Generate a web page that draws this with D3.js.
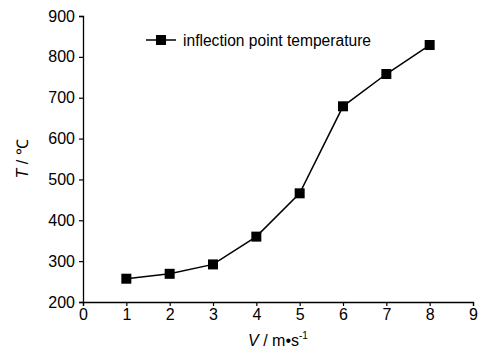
<!DOCTYPE html>
<html>
<head>
<meta charset="utf-8">
<script src="https://cdn.jsdelivr.net/npm/d3@7"></script>
<style>
  body { margin: 0; background: #fff; }
  text { font-family: "Liberation Sans", Arial, sans-serif; fill: #000; }
</style>
</head>
<body>
<svg id="chart" width="481" height="353"></svg>
<script>
// data
const speeds = [1, 2, 3, 4, 5, 6, 7, 8];
const temps = [257, 269, 292, 360, 466, 679, 758, 829];
const xTicks = [0, 1, 2, 3, 4, 5, 6, 7, 8, 9];
const yTicks = [200, 300, 400, 500, 600, 700, 800, 900];
const seriesName = "inflection point temperature";

const svg = d3.select("#chart");
const margin = { top: 16, right: 8, bottom: 51, left: 83 };
const width = +svg.attr("width") - margin.left - margin.right;
const height = +svg.attr("height") - margin.top - margin.bottom;
const g = svg.append("g").attr("transform", `translate(${margin.left},${margin.top})`);

const x = d3.scaleLinear().domain([0, 9]).range([0, 390]);
const y = d3.scaleLinear().domain([200, 900]).range([height, 0]);

// axes
const xAxis = g.append("g")
  .attr("transform", `translate(0,${height})`)
  .call(d3.axisBottom(x).tickValues(xTicks).tickSize(4).tickPadding(3));
const yAxis = g.append("g")
  .call(d3.axisLeft(y).tickValues(yTicks).tickSize(4).tickPadding(4));

[xAxis, yAxis].forEach(a => {
  a.select(".domain").attr("stroke", "#000").attr("stroke-width", 1.3);
  a.selectAll(".tick line").attr("stroke", "#000").attr("stroke-width", 1.2);
  a.selectAll("text").attr("font-size", 16).attr("fill", "#000")
    .attr("font-family", "Liberation Sans, Arial, sans-serif");
});

// line + markers
const data = speeds.map((s, i) => ({ s, t: temps[i] }));
g.append("path")
  .datum(data)
  .attr("fill", "none")
  .attr("stroke", "#000")
  .attr("stroke-width", 1.5)
  .attr("d", d3.line().x(d => x(d.s)).y(d => y(d.t)));

const ms = 10;
g.selectAll("rect.pt")
  .data(data)
  .enter()
  .append("rect")
  .attr("class", "pt")
  .attr("x", d => x(d.s) - ms / 2)
  .attr("y", d => y(d.t) - ms / 2)
  .attr("width", ms)
  .attr("height", ms)
  .attr("fill", "#000");

// legend
const lg = svg.append("g").attr("transform", "translate(146,40)");
lg.append("line").attr("x1", 0).attr("x2", 30).attr("stroke", "#000").attr("stroke-width", 1.5);
lg.append("rect").attr("x", 10).attr("y", -5).attr("width", 10).attr("height", 10).attr("fill", "#000");
lg.append("text").attr("x", 37).attr("y", 6).attr("font-size", 16)
  .attr("textLength", 188).attr("lengthAdjust", "spacingAndGlyphs")
  .text(seriesName);

// axis titles
const yl = svg.append("text")
  .attr("transform", "translate(28,159) rotate(-90)")
  .attr("text-anchor", "middle")
  .attr("fill", "#000")
  .attr("font-size", 16);
yl.append("tspan").attr("font-style", "italic").text("T");
yl.append("tspan").text(" / \u2103");

const xl = svg.append("text")
  .attr("x", 278)
  .attr("y", 346)
  .attr("text-anchor", "middle")
  .attr("fill", "#000")
  .attr("font-size", 16);
xl.append("tspan").attr("font-style", "italic").text("V");
xl.append("tspan").text(" / m\u2022s");
xl.append("tspan").attr("font-size", 10).attr("dy", -7).text("-1");
</script>
</body>
</html>
